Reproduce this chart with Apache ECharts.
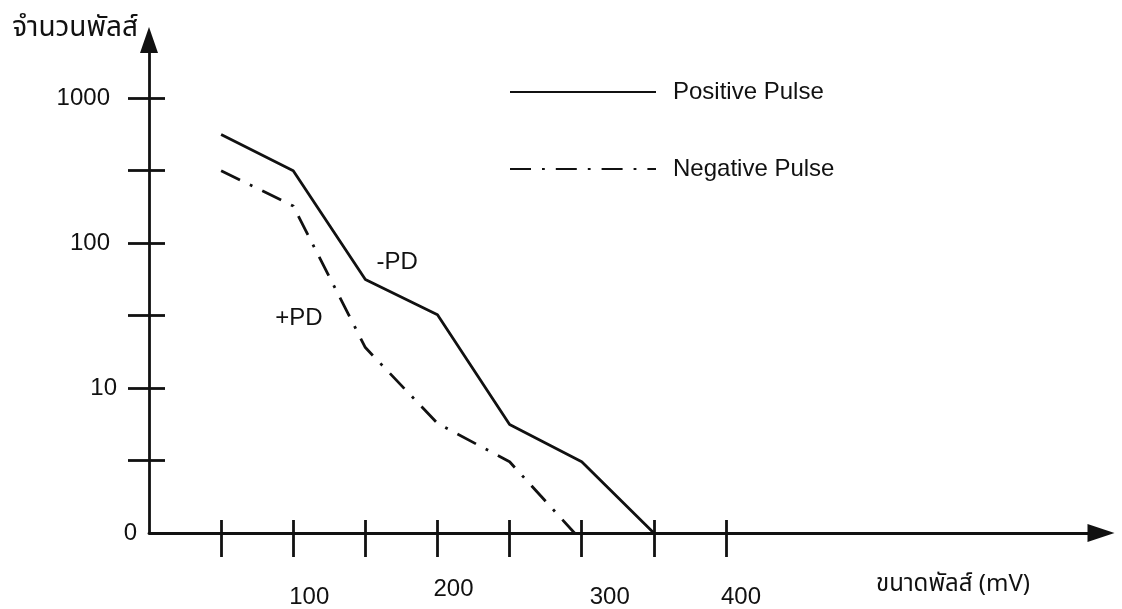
<!DOCTYPE html>
<html>
<head>
<meta charset="utf-8">
<script src="https://cdn.jsdelivr.net/npm/echarts@6/dist/echarts.min.js"></script>
<style>
html,body{margin:0;padding:0;background:#fff;}
#chart{width:1122px;height:609px;}
</style>
</head>
<body>
<div id="chart"></div>
<script>
// ---- data ----
const pulseSizes = [50, 100, 150, 200, 250, 300, 350];            // mV
const positiveCounts = [560, 315, 56, 32, 5.6, 3.1, 0];
const negativeSizes = [50, 100, 150, 200, 250, 295];
const negativeCounts = [315, 180, 19, 5.7, 3.1, 0];
const xTickValues = [50, 100, 150, 200, 250, 300, 350, 400];
const xTickLabels = [100, 200, 300, 400];
const yTickCounts = [3.162, 10, 31.62, 100, 316.2, 1000];
const yTickLabels = ['0', '10', '100', '1000'];
const yLabelCounts = [1, 10, 100, 1000];
const seriesNames = ['Positive Pulse', 'Negative Pulse'];
const annotations = [
  { text: '-PD', x: 172, count: 73 },
  { text: '+PD', x: 104, count: 30 }
];
const yTitle = 'จำนวนพัลส์';
const xTitle = 'ขนาดพัลส์ (mV)';

// ---- chart ----
const toLog = v => (v > 1 ? Math.log10(v) : 0);
const INK = '#111111';
const LATIN = "'Liberation Sans', Arial, Helvetica, sans-serif";
const THAI = "'Noto Sans Thai', 'Loma', 'Garuda', 'Tlwg Typo', 'DejaVu Sans', 'Liberation Sans', sans-serif";
const FS = 24;

const yTickPos = yTickCounts.map(toLog);
const yLabelPos = yLabelCounts.map(toLog);

const chart = echarts.init(document.getElementById('chart'), null, { renderer: 'canvas' });

const xRich = {
  l100: { fontSize: FS, fontFamily: LATIN, color: INK, padding: [8, 0, 0, 32] },
  l200: { fontSize: FS, fontFamily: LATIN, color: INK, padding: [0, 0, 0, 32] },
  l300: { fontSize: FS, fontFamily: LATIN, color: INK, padding: [8, 0, 0, 56] },
  l400: { fontSize: FS, fontFamily: LATIN, color: INK, padding: [8, 0, 0, 30] }
};
const yRich = {
  y0: { fontSize: FS, fontFamily: LATIN, color: INK, padding: [0, 0, 0, 0] },
  y10: { fontSize: FS, fontFamily: LATIN, color: INK, padding: [0, 20, 0, 0] },
  y100: { fontSize: FS, fontFamily: LATIN, color: INK, padding: [0, 27, 0, 0] },
  y1000: { fontSize: FS, fontFamily: LATIN, color: INK, padding: [0, 27, 0, 0] }
};

const lineW = 2.8;

const option = {
  backgroundColor: '#ffffff',
  animation: false,
  grid: { left: 149, right: 21, top: 40, bottom: 76, containLabel: false },
  legend: {
    data: seriesNames,
    orient: 'vertical',
    left: 509,
    top: 80,
    itemWidth: 146,
    itemHeight: 20,
    itemGap: 53,
    padding: 0,
    selectedMode: false,
    itemStyle: { color: 'rgba(0,0,0,0)', borderWidth: 0, opacity: 0 },
    formatter: name => '{t|' + name + '}',
    textStyle: {
      color: INK,
      fontSize: FS,
      fontFamily: LATIN,
      rich: { t: { fontSize: FS, fontFamily: LATIN, color: INK, padding: [0, 0, 0, 12] } }
    }
  },
  xAxis: [
    {
      type: 'value', min: 0, max: 660, position: 'bottom',
      name: xTitle, nameLocation: 'end', nameGap: -71,
      nameTextStyle: { fontSize: FS, fontFamily: THAI, color: INK, align: 'right', verticalAlign: 'top', padding: [41, 0, 0, 0] },
      axisLine: { show: true, onZero: false, symbol: ['none', 'triangle'], symbolSize: [18, 27], lineStyle: { color: INK, width: lineW } },
      axisTick: { show: true, customValues: xTickValues, length: 24, lineStyle: { color: INK, width: lineW } },
      axisLabel: {
        show: true, customValues: xTickLabels, margin: 44,
        formatter: v => '{l' + v + '|' + v + '}',
        rich: xRich
      },
      splitLine: { show: false }
    },
    {
      type: 'value', min: 0, max: 660, position: 'bottom',
      axisLine: { show: false, onZero: false },
      axisTick: { show: true, inside: true, customValues: xTickValues, length: 13, lineStyle: { color: INK, width: lineW } },
      axisLabel: { show: false },
      splitLine: { show: false }
    }
  ],
  yAxis: [
    {
      type: 'value', min: 0, max: 3.4, position: 'left',
      name: yTitle, nameLocation: 'end', nameGap: 10,
      nameTextStyle: { fontSize: 28, fontFamily: THAI, color: INK, align: 'right', verticalAlign: 'middle', padding: [0, 11, 0, 0] },
      axisLine: { show: true, onZero: false, symbol: ['none', 'triangle'], symbolSize: [18, 26], lineStyle: { color: INK, width: lineW } },
      axisTick: { show: true, customValues: yTickPos, length: 21, lineStyle: { color: INK, width: lineW } },
      axisLabel: {
        show: true, customValues: yLabelPos, margin: 12,
        formatter: v => {
          const i = yLabelPos.findIndex(p => Math.abs(p - v) < 1e-6);
          const t = i >= 0 ? yTickLabels[i] : '';
          return '{y' + t + '|' + t + '}';
        },
        rich: yRich
      },
      splitLine: { show: false }
    },
    {
      type: 'value', min: 0, max: 3.4, position: 'left',
      axisLine: { show: false, onZero: false },
      axisTick: { show: true, inside: true, customValues: yTickPos, length: 16, lineStyle: { color: INK, width: lineW } },
      axisLabel: { show: false },
      splitLine: { show: false }
    }
  ],
  series: [
    {
      name: seriesNames[0],
      type: 'line',
      xAxisIndex: 0, yAxisIndex: 0,
      data: pulseSizes.map((x, i) => [x, toLog(positiveCounts[i])]),
      symbol: 'none',
      itemStyle: { color: INK },
      lineStyle: { color: INK, width: lineW, type: 'solid' },
      markPoint: {
        symbol: 'rect', symbolSize: 1,
        itemStyle: { color: 'rgba(0,0,0,0)' },
        label: { show: true, position: 'inside', formatter: '{b}', fontSize: FS, fontFamily: LATIN, color: INK },
        data: annotations.map(a => ({ name: a.text, coord: [a.x, toLog(a.count)] }))
      }
    },
    {
      name: seriesNames[1],
      type: 'line',
      xAxisIndex: 0, yAxisIndex: 0,
      data: negativeSizes.map((x, i) => [x, toLog(negativeCounts[i])]),
      symbol: 'none',
      itemStyle: { color: INK },
      lineStyle: { color: INK, width: lineW, type: [21, 11, 2.8, 11] }
    }
  ]
};
chart.setOption(option);
</script>
</body>
</html>
